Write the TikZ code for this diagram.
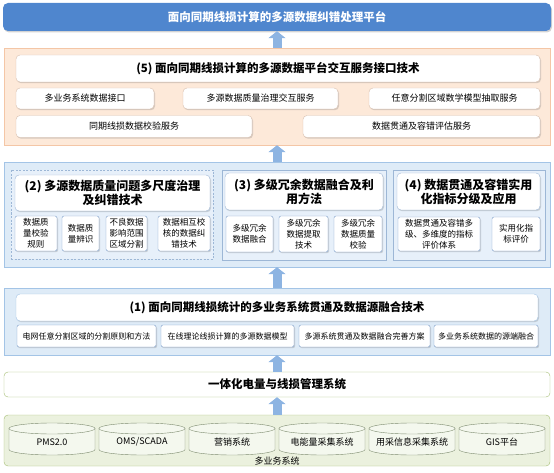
\documentclass[tikz,border=0pt]{standalone}
\usepackage{fontspec}
\setmainfont{Noto Sans CJK SC}
\usetikzlibrary{arrows.meta,shadows}

\definecolor{barblue}{HTML}{4F86CE}
\definecolor{arrowblue}{HTML}{8DB4E2}
\definecolor{peachfill}{HTML}{FDE9D9}
\definecolor{peachline}{HTML}{F4C6A6}
\definecolor{peachcard}{HTML}{D8BFAE}
\definecolor{bluefill}{HTML}{DEEBF7}
\definecolor{blueline}{HTML}{A3C4E6}
\definecolor{paneblue}{HTML}{E7F0FA}
\definecolor{paneline}{HTML}{9DB7D6}
\definecolor{subline}{HTML}{7B9CC9}
\definecolor{greenfill}{HTML}{EBF1DE}
\definecolor{greenline}{HTML}{A4BD72}
\definecolor{cylfill}{HTML}{F4F8EE}
\definecolor{cylline}{HTML}{7D8B6F}

\begin{document}
\begin{tikzpicture}[x=1pt, y=-1pt, font=\fontsize{9}{11}\selectfont]
  \tikzset{
    wh/.style 2 args={minimum width=#1pt, minimum height=#2pt},
    layer/.style={draw, inner sep=0pt, minimum width=546pt},
    card/.style={draw, fill=white, rounded corners=4pt, inner sep=1pt, align=center,
      drop shadow={opacity=0.3, shadow xshift=1pt, shadow yshift=-1.2pt}},
    head/.style={card, font=\bfseries\fontsize{11.5}{14}\selectfont},
    headtwo/.style={card, draw=paneline, font=\bfseries\fontsize{12}{14}\selectfont},
    leaf/.style={card, draw=subline, rounded corners=2pt, font=\fontsize{8.5}{11}\selectfont},
    pane/.style={draw=paneline, fill=paneblue, inner sep=0pt},
    lift/.style={line width=9pt, arrowblue, -{Triangle[width=17pt, length=7pt]}}
  }
  \useasboundingbox (0,0) rectangle (554,473);

  %% --- platform bar ---
  \node[layer, wh={548}{28}, fill=barblue, draw=none, rounded corners=5pt, text=white,
    font=\bfseries\fontsize{11.5}{14}\selectfont,
    drop shadow={opacity=0.35, shadow xshift=1pt, shadow yshift=-1.5pt}] (plat) at (277,17)
    {面向同期线损计算的多源数据纠错处理平台};

  %% --- (5) service interfaces ---
  \node[layer, wh={546}{97}, fill=peachfill, draw=peachline] (L5) at (277,96.5) {};
  \node[head, draw=peachcard, wh={524}{27}] (t5) at (278,68.5)
    {(5)~面向同期线损计算的多源数据平台交互服务接口技术};
  \node[card, draw=peachcard, wh={138}{21}] (r5a) at (85,98.5) {多业务系统数据接口};
  \node[card, draw=peachcard, wh={155}{21}] (r5b) at (260.5,98.5) {多源数据质量治理交互服务};
  \node[card, draw=peachcard, wh={171}{21}] (r5c) at (454.5,98.5) {任意分割区域数学模型抽取服务};
  \node[card, draw=peachcard, wh={236}{22}] (r5d) at (134,126.5) {同期线损数据校验服务};
  \node[card, draw=peachcard, wh={237}{22}] (r5e) at (421.5,126.5) {数据贯通及容错评估服务};

  %% --- (2) (3) (4) ---
  \node[layer, wh={546}{105}, fill=bluefill, draw=blueline] (L234) at (277,214.5) {};
  \node[pane, dashed, dash pattern=on 2pt off 1.5pt, wh={202}{89}] (p2) at (112,214.5) {};
  \node[pane, wh={164}{90}] (p3) at (304,215) {};
  \node[pane, wh={152}{90}] (p4) at (469,215) {};
  \node[headtwo, wh={195}{36}] (t2) at (112.5,193) {(2)~多源数据质量问题多尺度治理\\及纠错技术};
  \node[headtwo, wh={158}{37}] (t3) at (304,191.5) {(3)~多级冗余数据融合及利\\用方法};
  \node[headtwo, wh={143}{37}] (t4) at (468.5,191.5) {(4)~数据贯通及容错实用\\化指标分级及应用};
  \node[leaf, wh={42}{35}] (s2a) at (36,233.5) {数据质\\量校验\\规则};
  \node[leaf, wh={37}{35}] (s2b) at (80.5,233.5) {数据质\\量辨识};
  \node[leaf, wh={41}{35}] (s2c) at (126.5,233.5) {不良数据\\影响范围\\区域分割};
  \node[leaf, wh={52}{35}] (s2d) at (184,233.5) {数据相互校\\核的数据纠\\错技术};
  \node[leaf, wh={47}{36}] (s3a) at (249.5,234) {多级冗余\\数据融合};
  \node[leaf, wh={49}{36}] (s3b) at (303.5,234) {多级冗余\\数据提取\\技术};
  \node[leaf, wh={48}{36}] (s3c) at (358,234) {多级冗余\\数据质量\\校验};
  \node[leaf, wh={82}{34}] (s4a) at (439,234) {数据贯通及容错多\\级、多维度的指标\\评价体系};
  \node[leaf, wh={48}{34}] (s4b) at (516,234) {实用化指\\标评价};

  %% --- (1) ---
  \node[layer, wh={546}{67}, fill=bluefill, draw=blueline] (L1) at (277,321.5) {};
  \node[head, draw=blueline, wh={522}{27}] (t1) at (277,307.5)
    {(1)~面向同期线损统计的多业务系统贯通及数据源融合技术};
  \node[leaf, font=\fontsize{8}{10}\selectfont, wh={139}{22}] (s1a) at (86.5,336) {电网任意分割区域的分割原则和方法};
  \node[leaf, font=\fontsize{8}{10}\selectfont, wh={133}{22}] (s1b) at (227.5,336) {在线理论线损计算的多源数据模型};
  \node[leaf, font=\fontsize{8}{10}\selectfont, wh={131}{22}] (s1c) at (364.5,336) {多源系统贯通及数据融合完善方案};
  \node[leaf, font=\fontsize{8}{10}\selectfont, wh={104}{22}] (s1d) at (486,336) {多业务系统数据的源端融合};

  %% --- management system and sources ---
  \node[layer, wh={546}{25}, fill=white, draw=greenline, rounded corners=4pt,
    font=\bfseries\fontsize{11.5}{14}\selectfont] (sys) at (277,384.5) {一体化电量与线损管理系统};
  \node[layer, wh={546}{51}, fill=greenfill, draw=greenline, rounded corners=4pt] (src) at (277,440.5) {};
  \foreach \cx/\txt [count=\i] in {52/PMS2.0, 142/{OMS/SCADA}, 232/营销系统,
      322/电能量采集系统, 412/用采信息采集系统, 502/GIS平台} {
    \filldraw[fill=cylfill, draw=cylline] (\cx-43,428.5) -- (\cx-43,449.5)
      arc[start angle=180, end angle=360, x radius=43pt, y radius=5.5pt] -- (\cx+43,428.5);
    \filldraw[fill=cylfill, draw=cylline] (\cx,428.5) ellipse[x radius=43pt, y radius=5.5pt];
    \node (db\i) at (\cx,442) {\txt};
  }
  \node (srclbl) at (277,461) {多业务系统};

  %% --- block arrows between layers ---
  \draw[lift] (L5.north) -- (plat.south);
  \draw[lift] (L234.north) -- (L5.south);
  \draw[lift] (L1.north) -- (L234.south);
  \draw[lift] (sys.north) -- (L1.south);
  \draw[lift] (src.north) -- (sys.south);
\end{tikzpicture}
\end{document}
